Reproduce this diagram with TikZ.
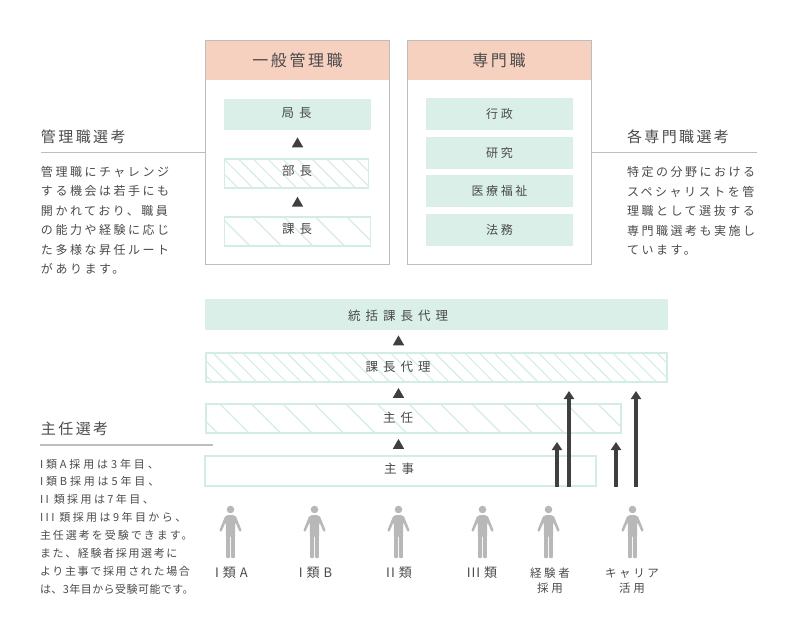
\documentclass[tikz,border=0pt]{standalone}
\usepackage{fontspec}
\usetikzlibrary{arrows.meta,shapes.geometric}
\newfontfamily\jpT[LetterSpace=16]{Noto Sans CJK JP}
\newfontfamily\jpB[LetterSpace=21]{Noto Sans CJK JP}
\newfontfamily\jpW[LetterSpace=40]{Noto Sans CJK JP}
\newfontfamily\jpE[LetterSpace=26]{Noto Sans CJK JP}
\newfontfamily\jpG[LetterSpace=22]{Noto Sans CJK JP}
\newfontfamily\jpF[LetterSpace=18]{Noto Sans CJK JP}
\newfontfamily\jpC[LetterSpace=15]{Noto Sans CJK JP}
\newfontfamily\jpD[LetterSpace=4]{Noto Sans CJK JP}
\newfontfamily\jpP[LetterSpace=22]{Noto Sans CJK JP}
\newfontfamily\jpQ[LetterSpace=8]{Noto Sans CJK JP}
\definecolor{mint}{HTML}{D9EFE7}
\definecolor{mintline}{HTML}{D4EDE4}
\definecolor{peach}{HTML}{F7D1BF}
\definecolor{rulegray}{HTML}{BDBDBD}
\definecolor{ink}{HTML}{4A4A4A}
\definecolor{figure}{HTML}{B8B8B8}
\definecolor{darkarrow}{HTML}{3F3F3F}
\tikzset{
  x=1pt,y=-1pt,
  every node/.style={inner sep=0pt,outer sep=0pt,text=ink},
  panel/.style={draw=rulegray,line width=1pt,fill=white,minimum width=184pt,minimum height=224pt},
  header/.style={fill=peach,minimum width=183pt,minimum height=39pt},
  headtext/.style={font=\jpT\fontsize{16}{20}\selectfont},
  solidbar/.style={fill=mint},
  outlinebar/.style={draw=mintline,line width=1.6pt},
  hatched/.style 2 args={outlinebar,path picture={
    \foreach \k in {-4,...,60}
      \draw[mintline,line width=1.1pt]
        ([xshift=\k*#1 pt+#2 pt-40pt,yshift=40pt]path picture bounding box.north west) -- ++(90pt,-90pt);}},
  rankmark/.style={regular polygon,regular polygon sides=3,fill=darkarrow,minimum size=13.2pt},
  itemtext/.style={font=\jpB\fontsize{12}{16}\selectfont},
  widetext/.style={font=\jpW\fontsize{12.5}{16}\selectfont},
  title/.style={anchor=west,font=\jpT\fontsize{15}{19}\selectfont},
  bodytext/.style={anchor=west,align=left,font=\jpB\fontsize{12}{19.5}\selectfont},
  smalltext/.style={anchor=west,align=left,font=\jpC\fontsize{11}{17.9}\selectfont},
  rule/.style={draw=rulegray,line width=1.5pt},
  pathup/.style={draw=darkarrow,line width=4pt,-{Triangle[width=10pt,length=8pt]}},
  personlabel/.style={align=center,font=\jpP\fontsize{11.5}{15}\selectfont},
  classlabel/.style={font=\jpQ\fontsize{13}{15}\selectfont},
  person/.pic={
    \fill[figure] (0,-48.5) circle (3.8);
    \fill[figure,rounded corners=0.8pt] (-2.5,-43) -- (2.5,-43) -- (5.5,-41.5) -- (11.2,-27.5) -- (9.2,-26) -- (4.8,-36)
      -- (4.5,-23) -- (4.4,0) -- (0.5,0) -- (0.5,-22) -- (-0.5,-22) -- (-0.5,0) -- (-4.4,0) -- (-4.5,-23) -- (-4.8,-36)
      -- (-9.2,-26) -- (-11.2,-27.5) -- (-5.5,-41.5) -- cycle;
  }
}
\begin{document}
\begin{tikzpicture}
\useasboundingbox (0,0) rectangle (796,627);
% upper panels
\node[panel] (gen) at (297.5,152.5) {};
\node[header] (genh) at (297.5,60.5) {};
\node[headtext] (genht) at (297.5,60) {一般管理職};
\node[solidbar,minimum width=147pt,minimum height=31pt] (kyoku) at (297.5,114.5) {};
\node[widetext] (kyokut) at (296.5,113) {局長};
\node[hatched={14.7}{14},minimum width=144pt,minimum height=29pt] (bu) at (296.5,173.5) {};
\node[widetext] (but) at (297,171) {部長};
\node[hatched={31.5}{28},minimum width=146pt,minimum height=29pt] (ka) at (297.5,231.5) {};
\node[widetext] (kat) at (297,229) {課長};
\node[rankmark] (m1) at (297.5,144) {};
\node[rankmark] (m2) at (297.5,203.4) {};
\node[panel] (spec) at (499.5,152.5) {};
\node[header] (spech) at (499.5,60.5) {};
\node[headtext] (specht) at (499,60) {専門職};
\node[solidbar,minimum width=147pt,minimum height=32pt,itemtext] (s1) at (499.5,114) {行政};
\node[solidbar,minimum width=147pt,minimum height=32pt,itemtext] (s2) at (499.5,153) {研究};
\node[solidbar,minimum width=147pt,minimum height=32pt,itemtext] (s3) at (499.5,191) {医療福祉};
\node[solidbar,minimum width=147pt,minimum height=32pt,itemtext] (s4) at (499.5,230) {法務};
% lower bars
\node[solidbar,minimum width=463pt,minimum height=31pt] (b1) at (436.5,314.5) {};
\node[hatched={14.8}{7},minimum width=461pt,minimum height=29pt] (b2) at (436.5,367.5) {};
\node[hatched={31.5}{14},minimum width=415pt,minimum height=29pt] (b3) at (413.5,418.5) {};
\node[outlinebar,minimum width=391pt,minimum height=30.5pt] (b4) at (400.5,471) {};
\node[widetext] (b1t) at (398,316) {統括課長代理};
\node[widetext] (b2t) at (398,367) {課長代理};
\node[widetext] (b3t) at (398,418) {主任};
\node[widetext] (b4t) at (399,469) {主事};
\node[rankmark] (m3) at (398.5,342) {};
\node[rankmark] (m4) at (398.5,394.6) {};
\node[rankmark] (m5) at (398.5,445.6) {};
% left and right columns
\node[title] (t1) at (41,137) {管理職選考};
\coordinate (r1) at (41,152.5);
\draw[rule] (r1) -- (r1 -| gen.west);
\node[bodytext] (d1) at (41,220.5) {管理職にチャレンジ\\する機会は若手にも\\開かれており、職員\\の能力や経験に応じ\\た多様な昇任ルート\\があります。};
\node[title] (t2) at (627,137) {各専門職選考};
\coordinate (r2) at (757,152.5);
\draw[rule] (r2) -- (r2 -| spec.east);
\node[bodytext] (d2) at (627,211) {特定の分野における\\スペシャリストを管\\理職として選抜する\\専門職選考も実施し\\ています。};
\node[title] (t3) at (41,429) {主任選考};
\coordinate (r3a) at (40,445);
\coordinate (r3b) at (213,445);
\draw[rule] (r3a) -- (r3b);
\node[smalltext] (d3) at (40,526.5) {{\jpE I類A採用は3年目、}\\{\jpE I類B採用は5年目、}\\{\jpG II 類採用は7年目、}\\{\jpG III 類採用は9年目から、}\\{\jpF 主任選考を受験できます。}\\また、経験者採用選考に\\より主事で採用された場合\\{\jpD は、3年目から受験可能です。}};
% career arrows
\coordinate (a1s) at (557,487); \coordinate (a1e) at (557,442);
\coordinate (a2s) at (569,487); \coordinate (a2e) at (569,391);
\coordinate (a3s) at (616,487); \coordinate (a3e) at (616,442);
\coordinate (a4s) at (636,487); \coordinate (a4e) at (636,391);
\draw[pathup] (a1s) -- (a1e);
\draw[pathup] (a2s) -- (a2e);
\draw[pathup] (a3s) -- (a3e);
\draw[pathup] (a4s) -- (a4e);
% people
\foreach \px in {230.5,314.5,398.5,482.5,548.5,632.5}
  \pic at (\px,558) {person};
\node[classlabel] (p1) at (231.5,573) {I 類 A};
\node[classlabel] (p2) at (315.5,573) {I 類 B};
\node[classlabel] (p3) at (399,573) {II 類};
\node[classlabel] (p4) at (482,573) {III 類};
\node[personlabel] (p5) at (550,580.5) {経験者\\採用};
\node[personlabel] (p6) at (632,580.5) {キャリア\\活用};
\end{tikzpicture}
\end{document}
